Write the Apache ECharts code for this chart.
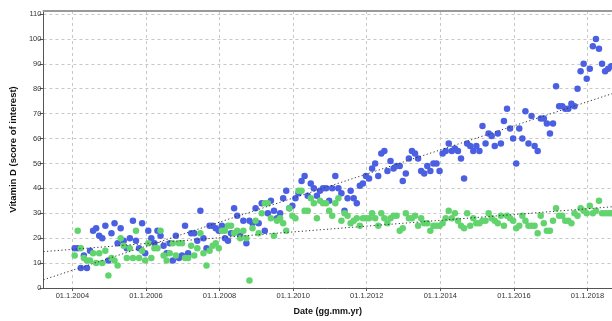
<!DOCTYPE html>
<html>
<head>
<meta charset="utf-8">
<script src="https://cdn.jsdelivr.net/npm/echarts@6/dist/echarts.min.js"></script>
<style>
html,body{margin:0;padding:0;background:#fff;}
#chart{width:612px;height:321px;}
</style>
</head>
<body>
<div id="chart"></div>
<script>
// Monthly observations, starting January 2004
var startYear = 2004;
var blueValues = [16,16,8,13,8,15,23,24,21,20,25,11,22,26,18,24,19,16,20,27,19,16,26,14,23,20,18,23,21,17,14,18,11,21,12,13,25,14,22,22,19,31,20,16,25,25,24,23,25,20,19,22,32,29,21,27,18,27,26,32,26,34,23,30,35,31,28,30,36,39,32,33,36,38,43,45,37,42,40,37,39,40,40,35,40,45,40,38,31,36,39,36,34,41,42,45,44,48,50,45,54,55,47,51,48,49,49,43,46,52,55,54,52,47,46,49,47,50,50,47,54,55,58,55,56,55,52,44,58,57,55,57,55,65,58,62,61,57,62,58,67,72,64,60,50,64,60,71,58,69,57,55,68,68,66,62,66,81,73,73,72,72,74,73,80,87,90,84,88,97,100,96,90,87,88,89];
var greenValues = [13,23,16,12,11,11,14,10,14,10,15,5,12,11,9,20,17,12,16,12,23,12,15,11,18,12,16,16,23,13,11,14,18,13,18,18,12,12,17,13,16,22,14,9,15,17,18,16,23,23,25,25,22,23,20,23,20,3,24,27,22,30,34,34,28,21,27,28,26,23,32,29,28,39,39,31,31,36,34,28,35,34,34,31,29,34,36,27,30,29,26,27,28,25,28,28,28,30,28,25,30,28,26,28,29,29,23,24,30,28,28,29,25,28,26,26,23,25,25,25,26,28,31,28,30,27,25,24,30,25,28,26,26,27,27,30,28,27,26,29,25,29,28,27,24,25,29,27,25,25,25,22,29,26,23,23,27,32,29,29,27,27,26,30,29,32,31,30,33,30,31,35,30,30,30,30];
// Linear fit lines: value at left edge and right edge of the date range
var xRange = [2003.213, 2018.666];
var blueFit = [3.3, 78];
var greenFit = [14.6, 32.6];
var xTickYears = [2004, 2006, 2008, 2010, 2012, 2014, 2016, 2018];
var yTickValues = [0,10,20,30,40,50,60,70,80,90,100,110];
var yMax = 111.2;

function toPoints(vals) {
  return vals.map(function (v, i) { return [startYear + (i + 0.75) / 12, v]; });
}

var chart = echarts.init(document.getElementById('chart'), null, {renderer: 'canvas'});
var font = 'Liberation Sans, Arial, sans-serif';
chart.setOption({
  animation: false,
  backgroundColor: '#ffffff',
  grid: {left: 38.5, right: 0, top: 11, bottom: 28, containLabel: false},
  xAxis: [{
    type: 'value',
    min: xRange[0],
    max: xRange[1],
    name: 'Date (gg.mm.yr)',
    nameLocation: 'middle',
    nameGap: 19,
    nameTextStyle: {fontFamily: font, fontWeight: 'bold', fontSize: 9, color: '#111'},
    axisLine: {show: true, lineStyle: {color: '#555', width: 1}},
    axisTick: {show: true, length: 3, customValues: xTickYears, lineStyle: {color: '#555'}},
    axisLabel: {customValues: xTickYears, fontFamily: font, fontSize: 7.5, color: '#333', margin: 4,
      formatter: function (v) { return '01.1.' + Math.round(v); }},
    splitLine: {show: true, lineStyle: {color: '#c8c8c8', type: [3, 3], width: 1}}
  }, {
    type: 'value',
    position: 'top',
    min: xRange[0],
    max: xRange[1],
    axisLine: {show: true, lineStyle: {color: '#9a9a9a', width: 2}},
    axisTick: {show: false},
    axisLabel: {show: false},
    splitLine: {show: false}
  }],
  yAxis: {
    type: 'value',
    min: 0,
    max: yMax,
    name: 'Vitamin D (score of interest)',
    nameLocation: 'middle',
    nameGap: 22,
    nameTextStyle: {fontFamily: font, fontWeight: 'bold', fontSize: 9.5, color: '#111'},
    axisLine: {show: true, lineStyle: {color: '#555', width: 1}},
    axisTick: {show: true, length: 4, customValues: yTickValues, lineStyle: {color: '#555'}},
    axisLabel: {customValues: yTickValues, fontFamily: font, fontSize: 7.5, color: '#333', margin: 2},
    splitLine: {show: true, lineStyle: {color: '#c8c8c8', type: [3, 3], width: 1}}
  },
  series: [{
    type: 'scatter',
    data: toPoints(blueValues),
    symbolSize: 6.5,
    itemStyle: {color: '#4b5fe2', opacity: 1},
    z: 2
  }, {
    type: 'scatter',
    data: toPoints(greenValues),
    symbolSize: 6.5,
    itemStyle: {color: '#62d46e', opacity: 1},
    z: 3
  }, {
    type: 'line',
    data: [[xRange[0], blueFit[0]], [xRange[1], blueFit[1]]],
    symbol: 'none',
    lineStyle: {color: '#333', width: 1, type: [1.2, 2.4]},
    z: 4
  }, {
    type: 'line',
    data: [[xRange[0], greenFit[0]], [xRange[1], greenFit[1]]],
    symbol: 'none',
    lineStyle: {color: '#333', width: 1, type: [1.2, 2.4]},
    z: 4
  }]
});
</script>
</body>
</html>
